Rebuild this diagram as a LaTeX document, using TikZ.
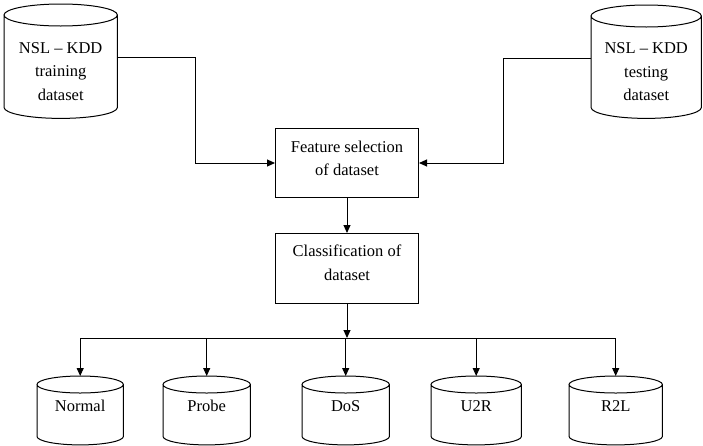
\documentclass[tikz,border=0pt]{standalone}
\usepackage{fontspec}
\setmainfont{Liberation Serif}
\usetikzlibrary{arrows.meta,calc}
\tikzset{
  ln/.style={line width=1pt},
  arr/.style={ln,-{Triangle[length=8pt,width=7pt]}},
  area/.style 2 args={draw=none,inner sep=0pt,anchor=north west,minimum width=#1,minimum height=#2},
  procbox/.style 2 args={ln,draw,inner sep=0pt,anchor=north west,minimum width=#1,minimum height=#2},
  txt/.style={inner sep=0pt,align=center,font=\fontsize{16.5}{23.5}\selectfont}
}
\newcommand\drawcyl[2]{%
  \draw[ln] let \p1=(#1.north west), \p2=(#1.south east), \n1={(\x2-\x1)/2} in
    (\x1,\y1-#2) -- (\x1,\y2+#2)
    arc[start angle=180,end angle=360,x radius=\n1,y radius=#2]
    -- (\x2,\y1-#2)
    arc[start angle=0,end angle=360,x radius=\n1,y radius=#2];
}
\begin{document}
\begin{tikzpicture}[x=1pt,y=-1pt]
\useasboundingbox (0,0) rectangle (703,445);
% top cylinders
\node[area={113pt}{114pt}] (train) at (4,4) {};
\node[area={110pt}{113pt}] (test) at (591,5) {};
\drawcyl{train}{11pt}
\drawcyl{test}{11pt}
\node[txt] (trainT) at ($(train.center)+(0,10)$) {NSL – KDD\\training\\dataset};
\node[txt] (testT) at ($(test.center)+(0,10)$) {NSL – KDD\\testing\\dataset};
% boxes
\node[procbox={143pt}{69pt}] (feat) at (275,128) {};
\node[txt] (featT) at ($(feat.center)+(0,-4.5)$) {Feature selection\\of dataset};
\node[procbox={143pt}{70pt}] (class) at (275,233) {};
\node[txt] (classT) at ($(class.center)+(0,-5.5)$) {Classification of\\dataset};
% bottom cylinders
\node[area={86pt}{68.5pt}] (normal) at (37,376) {};
\node[area={87pt}{68.5pt}] (probe) at (163,376) {};
\node[area={87pt}{68.5pt}] (dos) at (302,376) {};
\node[area={90pt}{68.5pt}] (u2r) at (431,376) {};
\node[area={93pt}{68.5pt}] (r2l) at (569,376) {};
\drawcyl{normal}{8.5pt}
\drawcyl{probe}{8.5pt}
\drawcyl{dos}{8.5pt}
\drawcyl{u2r}{8.5pt}
\drawcyl{r2l}{8.5pt}
\foreach \c/\t in {normal/Normal,probe/Probe,dos/DoS,u2r/U2R,r2l/R2L}{
  \node[txt] (\c T) at ($(\c.north)+(0,30)$) {\t};
}
% connectors
\draw[arr] ([yshift=4pt]train.east) -- ++(78,0) |- (feat.west);
\draw[arr] ([yshift=3.5pt]test.west) -- ++(-88,0) |- (feat.east);
\draw[arr] (feat.south) -- (class.north);
\coordinate (busy) at (0,338);
\draw[arr] (class.south) -- (class.south |- busy);
\draw[ln] (normal.north |- busy) -- (r2l.north |- busy);
\foreach \c in {normal,probe,dos,u2r,r2l}{
  \draw[arr] (\c.north |- busy) -- (\c.north);
}
\end{tikzpicture}
\end{document}
